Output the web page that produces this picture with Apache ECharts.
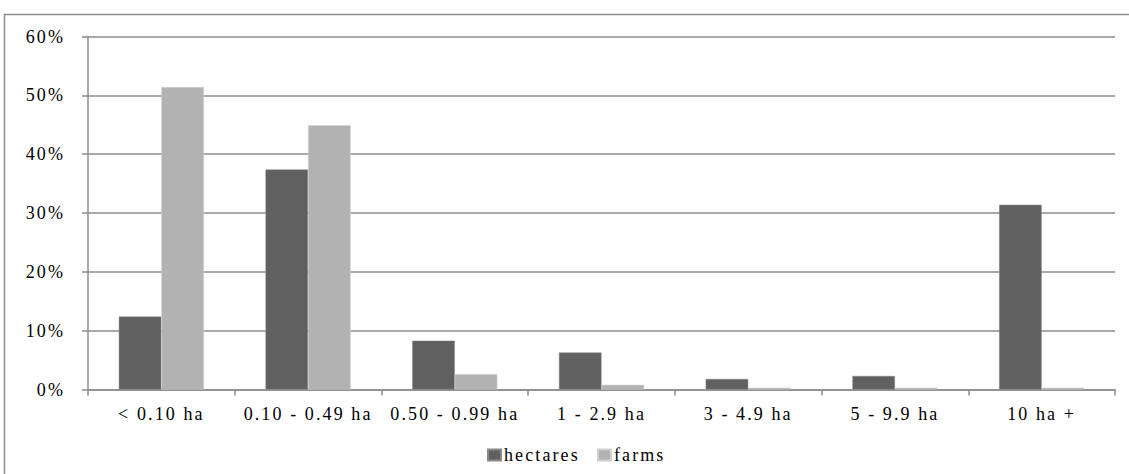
<!DOCTYPE html>
<html><head><meta charset="utf-8">
<script src="https://cdn.jsdelivr.net/npm/echarts@6/dist/echarts.min.js"></script>
<style>html,body{margin:0;padding:0;background:#fff}#c{width:1129px;height:474px}#c text{letter-spacing:2.1px}</style>
</head><body><div id="c"></div>
<script>
const categories = ['< 0.10 ha', '0.10 - 0.49 ha', '0.50 - 0.99 ha', '1 - 2.9 ha', '3 - 4.9 ha', '5 - 9.9 ha', '10 ha +'];
const hectares = [12.4, 37.4, 8.3, 6.3, 1.8, 2.3, 31.4];
const farms = [51.4, 44.9, 2.6, 0.8, 0.3, 0.3, 0.3];
const seriesNames = ['hectares', 'farms'];

const chart = echarts.init(document.getElementById('c'), null, {renderer: 'svg'});
const font = 'Liberation Serif';
chart.setOption({
  animation: false,
  backgroundColor: '#fff',
  textStyle: {fontFamily: font},
  graphic: [{type: 'rect', shape: {x: 4.5, y: 14.5, width: 1200, height: 600}, style: {fill: 'none', stroke: '#8c8c8c', lineWidth: 1.5}, silent: true}],
  grid: {left: 88, right: 14, top: 36.5, bottom: 84.5, containLabel: false},
  legend: {
    data: seriesNames, left: 487, top: 446, padding: 0, itemWidth: 13, itemHeight: 11, itemGap: 34, icon: 'rect',
    textStyle: {fontFamily: font, fontSize: 18, color: '#000', padding: [0, 0, 0, -2]}
  },
  xAxis: {
    type: 'category', data: categories,
    axisLine: {lineStyle: {color: '#8c8c8c', width: 1.5}},
    axisTick: {show: true, length: 6, lineStyle: {color: '#8c8c8c', width: 1.5}},
    axisLabel: {color: '#000', fontSize: 18, fontFamily: font, margin: 15}
  },
  yAxis: {
    type: 'value', min: 0, max: 60, interval: 10,
    axisLine: {show: true, lineStyle: {color: '#8c8c8c', width: 1.5}},
    axisTick: {show: true, length: 6, lineStyle: {color: '#8c8c8c', width: 1.5}},
    splitLine: {lineStyle: {color: '#8c8c8c', width: 1.5}},
    axisLabel: {color: '#000', fontSize: 18, fontFamily: font, margin: 23, formatter: v => v + '%'}
  },
  series: [
    {name: seriesNames[0], type: 'bar', data: hectares, barGap: '0%', barCategoryGap: '42%',
     itemStyle: {color: '#606060', borderColor: '#8a8a8a', borderWidth: 0.5}},
    {name: seriesNames[1], type: 'bar', data: farms,
     itemStyle: {color: '#b2b2b2', borderColor: '#d0d0d0', borderWidth: 0.5}}
  ]
});
</script></body></html>
